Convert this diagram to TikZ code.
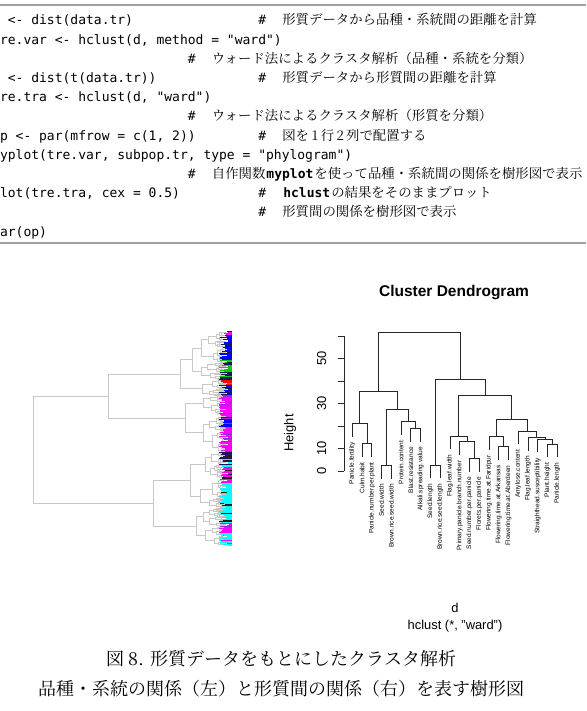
\documentclass[tikz,border=0pt]{standalone}
\usepackage{fontspec}
\setmainfont{Liberation Sans}
\newfontfamily\codefont{DejaVu Sans Mono}
\newfontfamily\jpfont{Noto Serif CJK JP}
\usetikzlibrary{positioning}
\definecolor{rblue}{RGB}{0,0,255}
\definecolor{rgreen}{RGB}{0,205,0}
\definecolor{rred}{RGB}{255,0,0}
\definecolor{rnavy}{RGB}{25,25,90}
\definecolor{rmagenta}{RGB}{255,0,255}
\definecolor{rcyan}{RGB}{0,255,255}
\definecolor{rpurple}{RGB}{150,40,220}
\definecolor{rblack}{RGB}{30,30,30}
\definecolor{treegray}{RGB}{200,200,200}
\definecolor{rulegray}{RGB}{160,160,160}
\newcommand\cmtcode[1]{{\codefont\bfseries\fontsize{13}{15}\selectfont\hspace{1pt}#1\hspace{1pt}}}
\newcommand\hashmark{{\codefont\fontsize{13}{15}\selectfont\#}\hspace{1.2em}}
\tikzset{
    code/.style={anchor=base west, inner sep=0pt, font=\codefont\fontsize{13}{15}\selectfont},
    cmt/.style={anchor=base west, inner sep=0pt, font=\jpfont\fontsize{13.4}{15}\selectfont},
    caption/.style={inner sep=0pt, font=\jpfont\fontsize{18}{22}\selectfont},
    rtext/.style={inner sep=0pt, font=\fontsize{12.9}{15}\selectfont},
    leaflbl/.style={inner sep=0pt, rotate=90, anchor=east, font=\fontsize{6.5}{8}\selectfont},
    dendro/.style={draw=treegray, line width=0.8pt},
    hc/.style={draw=black!85, line width=0.8pt},
    rule/.style={draw=rulegray, line width=1.5pt},
}
% random subtree of the left phylogram: #1 top, #2 bottom, #3 node x, #4 depth
\newcommand\subtree[4]{%
  \begingroup
  \ifnum#4>0
    \pgfmathsetmacro\cut{#1+(#2-#1)*(0.3+0.4*rnd)}%
    \pgfmathsetmacro\xa{#3+(224-#3)*(0.25+0.3*rnd)}%
    \pgfmathsetmacro\xb{#3+(224-#3)*(0.25+0.3*rnd)}%
    \edef\next{\noexpand\subtree{#1}{\cut}{\xa}{\the\numexpr#4-1\relax}}\next
    \let\ya\lastanchor
    \edef\next{\noexpand\subtree{\cut}{#2}{\xb}{\the\numexpr#4-1\relax}}\next
    \let\yb\lastanchor
    \draw[dendro] (\xa,\ya) -| (#3,\yb) -- (\xb,\yb);
    \pgfmathsetmacro\yc{(\ya+\yb)/2}%
  \else
    \pgfmathsetmacro\yc{(#1+#2)/2}%
    \draw[dendro] (#3,#1) -- (#3,#2) (#3,\yc) -- (226,\yc);
  \fi
  \xdef\lastanchor{\yc}%
  \endgroup}

\begin{document}
\begin{tikzpicture}[x=1pt, y=-1pt]
    \useasboundingbox (0,0) rectangle (586,711);
    \pgfmathsetseed{7}

    % R code listing
    \draw[rule] (0,5) -- (586,5);
    \draw[rule] (0,243) -- (586,243);
    \foreach \k/\txt in {0/{d <- dist(data.tr)}, 1/{tre.var <- hclust(d, method = "ward")},
        3/{d <- dist(t(data.tr))}, 4/{tre.tra <- hclust(d, "ward")},
        6/{op <- par(mfrow = c(1, 2))}, 7/{myplot(tre.var, subpop.tr, type = "phylogram")},
        9/{plot(tre.tra, cex = 0.5)}, 11/{par(op)}}
        \node[code] (code\k) at (-8,{25+19.2*\k}) {\txt};
    \foreach \k/\col/\txt in {0/34/{形質データから品種・系統間の距離を計算},
        2/25/{ウォード法によるクラスタ解析（品種・系統を分類）},
        3/34/{形質データから形質間の距離を計算},
        5/25/{ウォード法によるクラスタ解析（形質を分類）},
        6/34/{図を\,1\,行\,2\,列で配置する},
        8/25/{自作関数\cmtcode{myplot}を使って品種・系統間の関係を樹形図で表示},
        9/34/{\cmtcode{hclust}の結果をそのままプロット},
        10/34/{形質間の関係を樹形図で表示}}
        \node[cmt] (cmt\k) at ({-8+7.83*\col},{25+19.2*\k}) {\hashmark\txt};

    % left: phylogram of varieties
    \subtree{331.7}{380}{192.3}{5}\let\cA\lastanchor
    \subtree{380}{396}{202.7}{4}\let\cB\lastanchor
    \subtree{396}{415}{203}{4}\let\cC\lastanchor
    \subtree{415}{452}{203}{5}\let\cD\lastanchor
    \subtree{452}{478}{205}{4}\let\cE\lastanchor
    \subtree{478}{508}{200}{5}\let\cF\lastanchor
    \subtree{508}{526}{203}{4}\let\cG\lastanchor
    \subtree{526}{545}{205}{4}\let\cH\lastanchor
    \draw[dendro] (192.3,\cA) -| (180,\cB) -- (202.7,\cB);
    \pgfmathsetmacro\nA{(\cA+\cB)/2}
    \draw[dendro] (203,\cC) -| (185,\cD) -- (203,\cD);
    \pgfmathsetmacro\nB{(\cC+\cD)/2}
    \draw[dendro] (205,\cE) -| (190,\cF) -- (200,\cF);
    \pgfmathsetmacro\nC{(\cE+\cF)/2}
    \draw[dendro] (203,\cG) -| (196.7,\cH) -- (205,\cH);
    \pgfmathsetmacro\nD{(\cG+\cH)/2}
    \draw[dendro] (180,\nA) -| (108.3,\nB) -- (185,\nB);
    \pgfmathsetmacro\nE{(\nA+\nB)/2}
    \draw[dendro] (190,\nC) -| (153.3,\nD) -- (196.7,\nD);
    \pgfmathsetmacro\nF{(\nC+\nD)/2}
    \draw[dendro] (108.3,\nE) -| (33,\nF) -- (153.3,\nF);
    % coloured tips by subpopulation
    \foreach \ta/\tb/\cm/\ca in {331.7/337/rmagenta/rblue, 337/360/rblue/rnavy,
        360/372/rgreen/rnavy, 372/380/rnavy/rgreen, 380/385/rred/rgreen,
        385/395/rnavy/rblue, 395/417/rmagenta/rpurple, 417/427/rblue/rpurple,
        427/452/rmagenta/rpurple, 452/458/rnavy/rblack, 458/467/rcyan/rnavy,
        467/483/rmagenta/rblack, 483/493/rcyan/rblack, 493/503/rcyan/rcyan,
        503/523/rcyan/rblack, 523/533/rmagenta/rpurple, 533/545/rcyan/rmagenta}{
        \pgfmathtruncatemacro\nrow{(\tb-\ta)/0.7}
        \foreach \r in {0,...,\nrow}{
            \pgfmathsetmacro\yy{\ta+0.7*\r}
            \pgfmathtruncatemacro\pick{rnd<0.75}
            \pgfmathsetmacro\len{3+10*rnd}
            \ifnum\pick=1 \def\cc{\cm}\else\def\cc{\ca}\fi
            \draw[draw=\cc, line width=0.7pt] (231.5-\len,\yy) -- (231.5,\yy);
        }
    }

    % right: hclust of traits
    \node[rtext, font=\bfseries\fontsize{15.5}{18}\selectfont] (title) at (454,293) {Cluster Dendrogram};
    \node[rtext, rotate=90] (ylab) at (290,433) {Height};
    \node[rtext, anchor=base] (xlab) at (455,612.5) {d};
    \node[rtext, anchor=base] (sublab) at (455,629.5) {hclust (*, "ward")};
    \begin{scope}[xshift=342.54pt, yshift=-471pt, x=9.76pt, y=2.25pt]
        \draw[hc] (0.16,0) -- (0.16,60);
        \foreach \t in {0,10,...,60}
            \draw[hc] (0.16,\t) -- ++(-6.5pt,0);
        \foreach \t in {0,10,30,50}
            \node[rtext, rotate=90] (tick\t) at ([xshift=-22.3pt]0.16,\t) {\t};
        \foreach \xa/\ba/\xb/\bb/\h in {2/6.4/3/6.4/12.3, 1/15.3/2.5/12.3/21.2,
            4/-3.4/5/-3.4/2.5, 7/13.1/8/13.1/19.0, 6/16.0/7.5/19.0/21.9,
            4.5/2.5/6.75/21.9/27.4, 1.75/21.2/5.625/27.4/35.5,
            9/-3.2/10/-3.2/2.7, 13/-0.3/14/-0.3/5.6, 12/7.1/13.5/5.6/13.0,
            11/9.7/12.75/13.0/15.6, 16/4.9/17/4.9/10.8, 15/9.4/16.5/10.8/15.3,
            21/6.1/22/6.1/12.0, 20/8.3/21.5/12.0/14.2, 19/9.1/20.75/14.2/15.0,
            18/11.9/19.875/15.0/17.8, 15.75/15.3/18.9375/17.8/23.0,
            11.875/15.6/17.34375/23.0/33.8, 9.5/2.7/14.609375/33.8/40.7,
            3.6875/35.5/12.0546875/40.7/61.6}
            \draw[hc] (\xa,\ba) |- (\xb,\h) -- (\xb,\bb);
        \foreach \i/\p/\lbl in {1/21.2/Panicle.fertility, 2/12.3/Culm.habit,
            3/12.3/Panicle.number.per.plant, 4/2.5/Seed.width,
            5/2.5/Brown.rice.seed.width, 6/21.9/Protein.content,
            7/19.0/Blast.resistance, 8/19.0/Alkali.spreading.value,
            9/2.7/Seed.length, 10/2.7/Brown.rice.seed.length,
            11/15.6/Flag.leaf.width, 12/13.0/Primary.panicle.branch.number,
            13/5.6/Seed.number.per.panicle, 14/5.6/Florets.per.panicle,
            15/15.3/Flowering.time.at.Faridpur, 16/10.8/Flowering.time.at.Arkansas,
            17/10.8/Flowering.time.at.Aberdeen, 18/17.8/Amylose.content,
            19/15.0/Flag.leaf.length, 20/14.2/Straighthead.susceptibility,
            21/12.0/Plant.height, 22/12.0/Panicle.length}
            \node[leaflbl] (leaf\i) at (\i,\p-8.3) {\lbl};
    \end{scope}

    % caption
    \node[caption] (cap1) at (281,659) {図 8. 形質データをもとにしたクラスタ解析};
    \node[caption, below=12pt of cap1] (cap2) {品種・系統の関係（左）と形質間の関係（右）を表す樹形図};
\end{tikzpicture}
\end{document}
